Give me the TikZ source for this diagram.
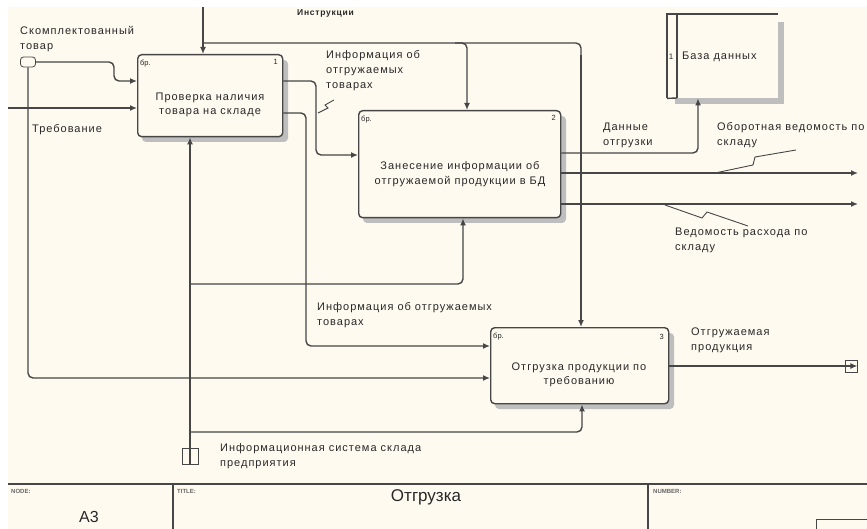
\documentclass[tikz,border=0pt]{standalone}
\usepackage{fontspec}
\setmainfont{Liberation Sans}
\newfontfamily\wfont[LetterSpace=9]{Liberation Sans}
\usetikzlibrary{arrows.meta,calc}
\definecolor{cream}{RGB}{255,250,240}
\definecolor{lncol}{RGB}{70,70,70}
\definecolor{shd}{RGB}{190,190,190}
\definecolor{txt}{RGB}{40,40,40}
\begin{document}
\begin{tikzpicture}[x=1pt,y=-1pt,
  box/.style={draw=lncol, line width=1.4pt, rounded corners=4pt, fill=cream, anchor=north west, inner sep=0pt},
  btext/.style={align=center, font=\wfont\fontsize{11}{14.5}\selectfont, text=txt, inner sep=0pt},
  arr/.style={draw=lncol, line width=1.4pt, rounded corners=5pt, -{Latex[length=7pt,width=6pt]}},
  wire/.style={draw=lncol, line width=1.4pt, rounded corners=5pt},
  zig/.style={draw=lncol, line width=0.9pt},
  lbl/.style={anchor=west, align=left, font=\wfont\fontsize{11}{15}\selectfont, text=txt, inner sep=0pt},
  small/.style={font=\fontsize{7.5}{8}\selectfont, text=txt, inner sep=0pt},
  tiny/.style={anchor=west, font=\fontsize{6}{7}\selectfont\bfseries, text=black!60, inner sep=0pt},
]
\useasboundingbox (0,0) rectangle (867,529);
\fill[white] (0,0) rectangle (867,529);
\fill[cream] (8,7) rectangle (867,529);

% shadows
\fill[shd, rounded corners=4pt] (142,60) rectangle (288,142);
\fill[shd, rounded corners=4pt] (363,116) rectangle (566,223);
\fill[shd, rounded corners=4pt] (495,333) rectangle (674,409);
\fill[shd] (778,22) rectangle (784,104);
\fill[shd] (675,98) rectangle (784,104);

% boxes
\node[box, minimum width=145pt, minimum height=82pt] (b1) at (137,54) {};
\node[box, minimum width=202pt, minimum height=107pt] (b2) at (358,110) {};
\node[box, minimum width=178pt, minimum height=76pt] (b3) at (490,327) {};
\node[btext] (b1t) at (210,105) {Проверка наличия\\товара на складе};
\node[btext] (b2t) at (460,174) {Занесение информации об\\отгружаемой продукции в БД};
\node[btext] (b3t) at (579,375) {Отгрузка продукции по\\требованию};
\node[small, anchor=west] (b1a) at (140,64) {бр.};
\node[small, anchor=east] (b1n) at (278,62) {1};
\node[small, anchor=west] (b2a) at (361,120) {бр.};
\node[small, anchor=east] (b2n) at (556,118) {2};
\node[small, anchor=west] (b3a) at (493,337) {бр.};
\node[small, anchor=east] (b3n) at (664,337) {3};

% database
\node[anchor=north west, minimum width=111pt, minimum height=84pt, inner sep=0pt] (db) at (667,14) {};
\draw[lncol, line width=1.4pt] (db.south west) -- (db.north west) -- (db.north east);
\draw[lncol, line width=1.4pt] (677,14) -- (677,98);
\draw[lncol, line width=1.4pt] (db.south west) -- (677,98);
\node[small, font=\fontsize{8}{9}\selectfont] (dbn) at (671,57) {1};
\node[anchor=west, font=\wfont\fontsize{11}{12}\selectfont, text=txt, inner sep=0pt] (dbt) at (682,57) {База данных};

% tunnels
\node[draw=lncol, line width=0.8pt, rounded corners=3pt, minimum width=15pt, minimum height=10pt, inner sep=0pt] (t1) at (28,62) {};
\node[draw=lncol, line width=0.8pt, minimum width=16pt, minimum height=16pt, inner sep=0pt] (m) at (190,456) {};
\node[draw=lncol, line width=0.8pt, minimum width=12pt, minimum height=12pt, inner sep=0pt] (o3) at (851,366) {};
\coordinate (in2) at (8,108);
\coordinate (ctop) at (203,7);
\coordinate (out1) at (858,173);
\coordinate (out2) at (858,204);

% inputs
\draw[arr] (t1.east) -- (114,62) -- (114,81) -- (b1.west |- 0,81);
\draw[arr] (t1.south) -- (28,378) -- (b3.west |- 0,378);
\draw[arr] (in2) -- (b1.west |- in2);
% control
\draw[arr] (ctop) -- (ctop |- b1.north);
\draw[wire] (203,43) -- (581,43) -- (581,60);
\draw[arr] (581,55) -- (581,0 |- b3.north);
\draw[arr] (455,43) -- (467,43) -- (467,0 |- b2.north);
% box1 outputs
\draw[arr] (b1.east |- 0,81) -- (316,81) -- (316,155) -- (b2.west |- 0,155);
\draw[arr] (b1.east |- 0,113) -- (306,113) -- (306,346) -- (b3.west |- 0,346);
% mechanism
\draw[arr] (m.south) -- (m.south |- b1.south);
\draw[arr] (190,284) -- (463,284) -- (463,0 |- b2.south);
\draw[arr] (190,432) -- (582,432) -- (582,0 |- b3.south);
% box2 outputs
\draw[arr] (b2.east |- 0,153) -- (698,153) -- (698,0 |- db.south);
\draw[arr] (b2.east |- out1) -- (out1);
\draw[arr] (b2.east |- out2) -- (out2);
% box3 output
\draw[arr] (b3.east |- o3) -- (o3.east);

% squiggles
\draw[zig] (318,113) -- (328,108) -- (325,105) -- (334,100);
\draw[zig] (715,173) -- (753,165) -- (755,157) -- (796,150);
\draw[zig] (665,205) -- (702,218) -- (707,212) -- (748,226);

% labels
\node[lbl] (lk) at (20,39.5) {Скомплектованный\\товар};
\node[lbl] (lt) at (32,130) {Требование};
\node[anchor=west, font=\wfont\fontsize{8.5}{9}\selectfont\bfseries, text=txt, inner sep=0pt] (li) at (297,13) {Инструкции};
\node[lbl] (lio) at (326,70.5) {Информация об\\отгружаемых\\товарах};
\node[lbl] (ld) at (603,135) {Данные\\отгрузки};
\node[lbl] (lo) at (717,135) {Оборотная ведомость по\\складу};
\node[lbl] (lv) at (675,240) {Ведомость расхода по\\складу};
\node[lbl] (lio2) at (317,315) {Информация об отгружаемых\\товарах};
\node[lbl] (lop) at (691,340) {Отгружаемая\\продукция};
\node[lbl] (lm) at (220,456) {Информационная система склада\\предприятия};

% title block
\draw[lncol, line width=1.4pt] (8,484) -- (867,484);
\draw[lncol, line width=1.4pt] (173,484) -- (173,529);
\draw[lncol, line width=1.4pt] (648,484) -- (648,529);
\draw[lncol, line width=0.9pt] (816,519) rectangle (880,540);
\node[tiny] (nn) at (11,491) {NODE:};
\node[tiny] (nt) at (177,491) {TITLE:};
\node[tiny] (nnum) at (653,491) {NUMBER:};
\node[font=\fontsize{16}{18}\selectfont, text=txt, inner sep=0pt] (na3) at (89,517) {A3};
\node[font=\fontsize{17}{19}\selectfont, text=txt, inner sep=0pt] (ntt) at (426,497) {Отгрузка};
\end{tikzpicture}
\end{document}
